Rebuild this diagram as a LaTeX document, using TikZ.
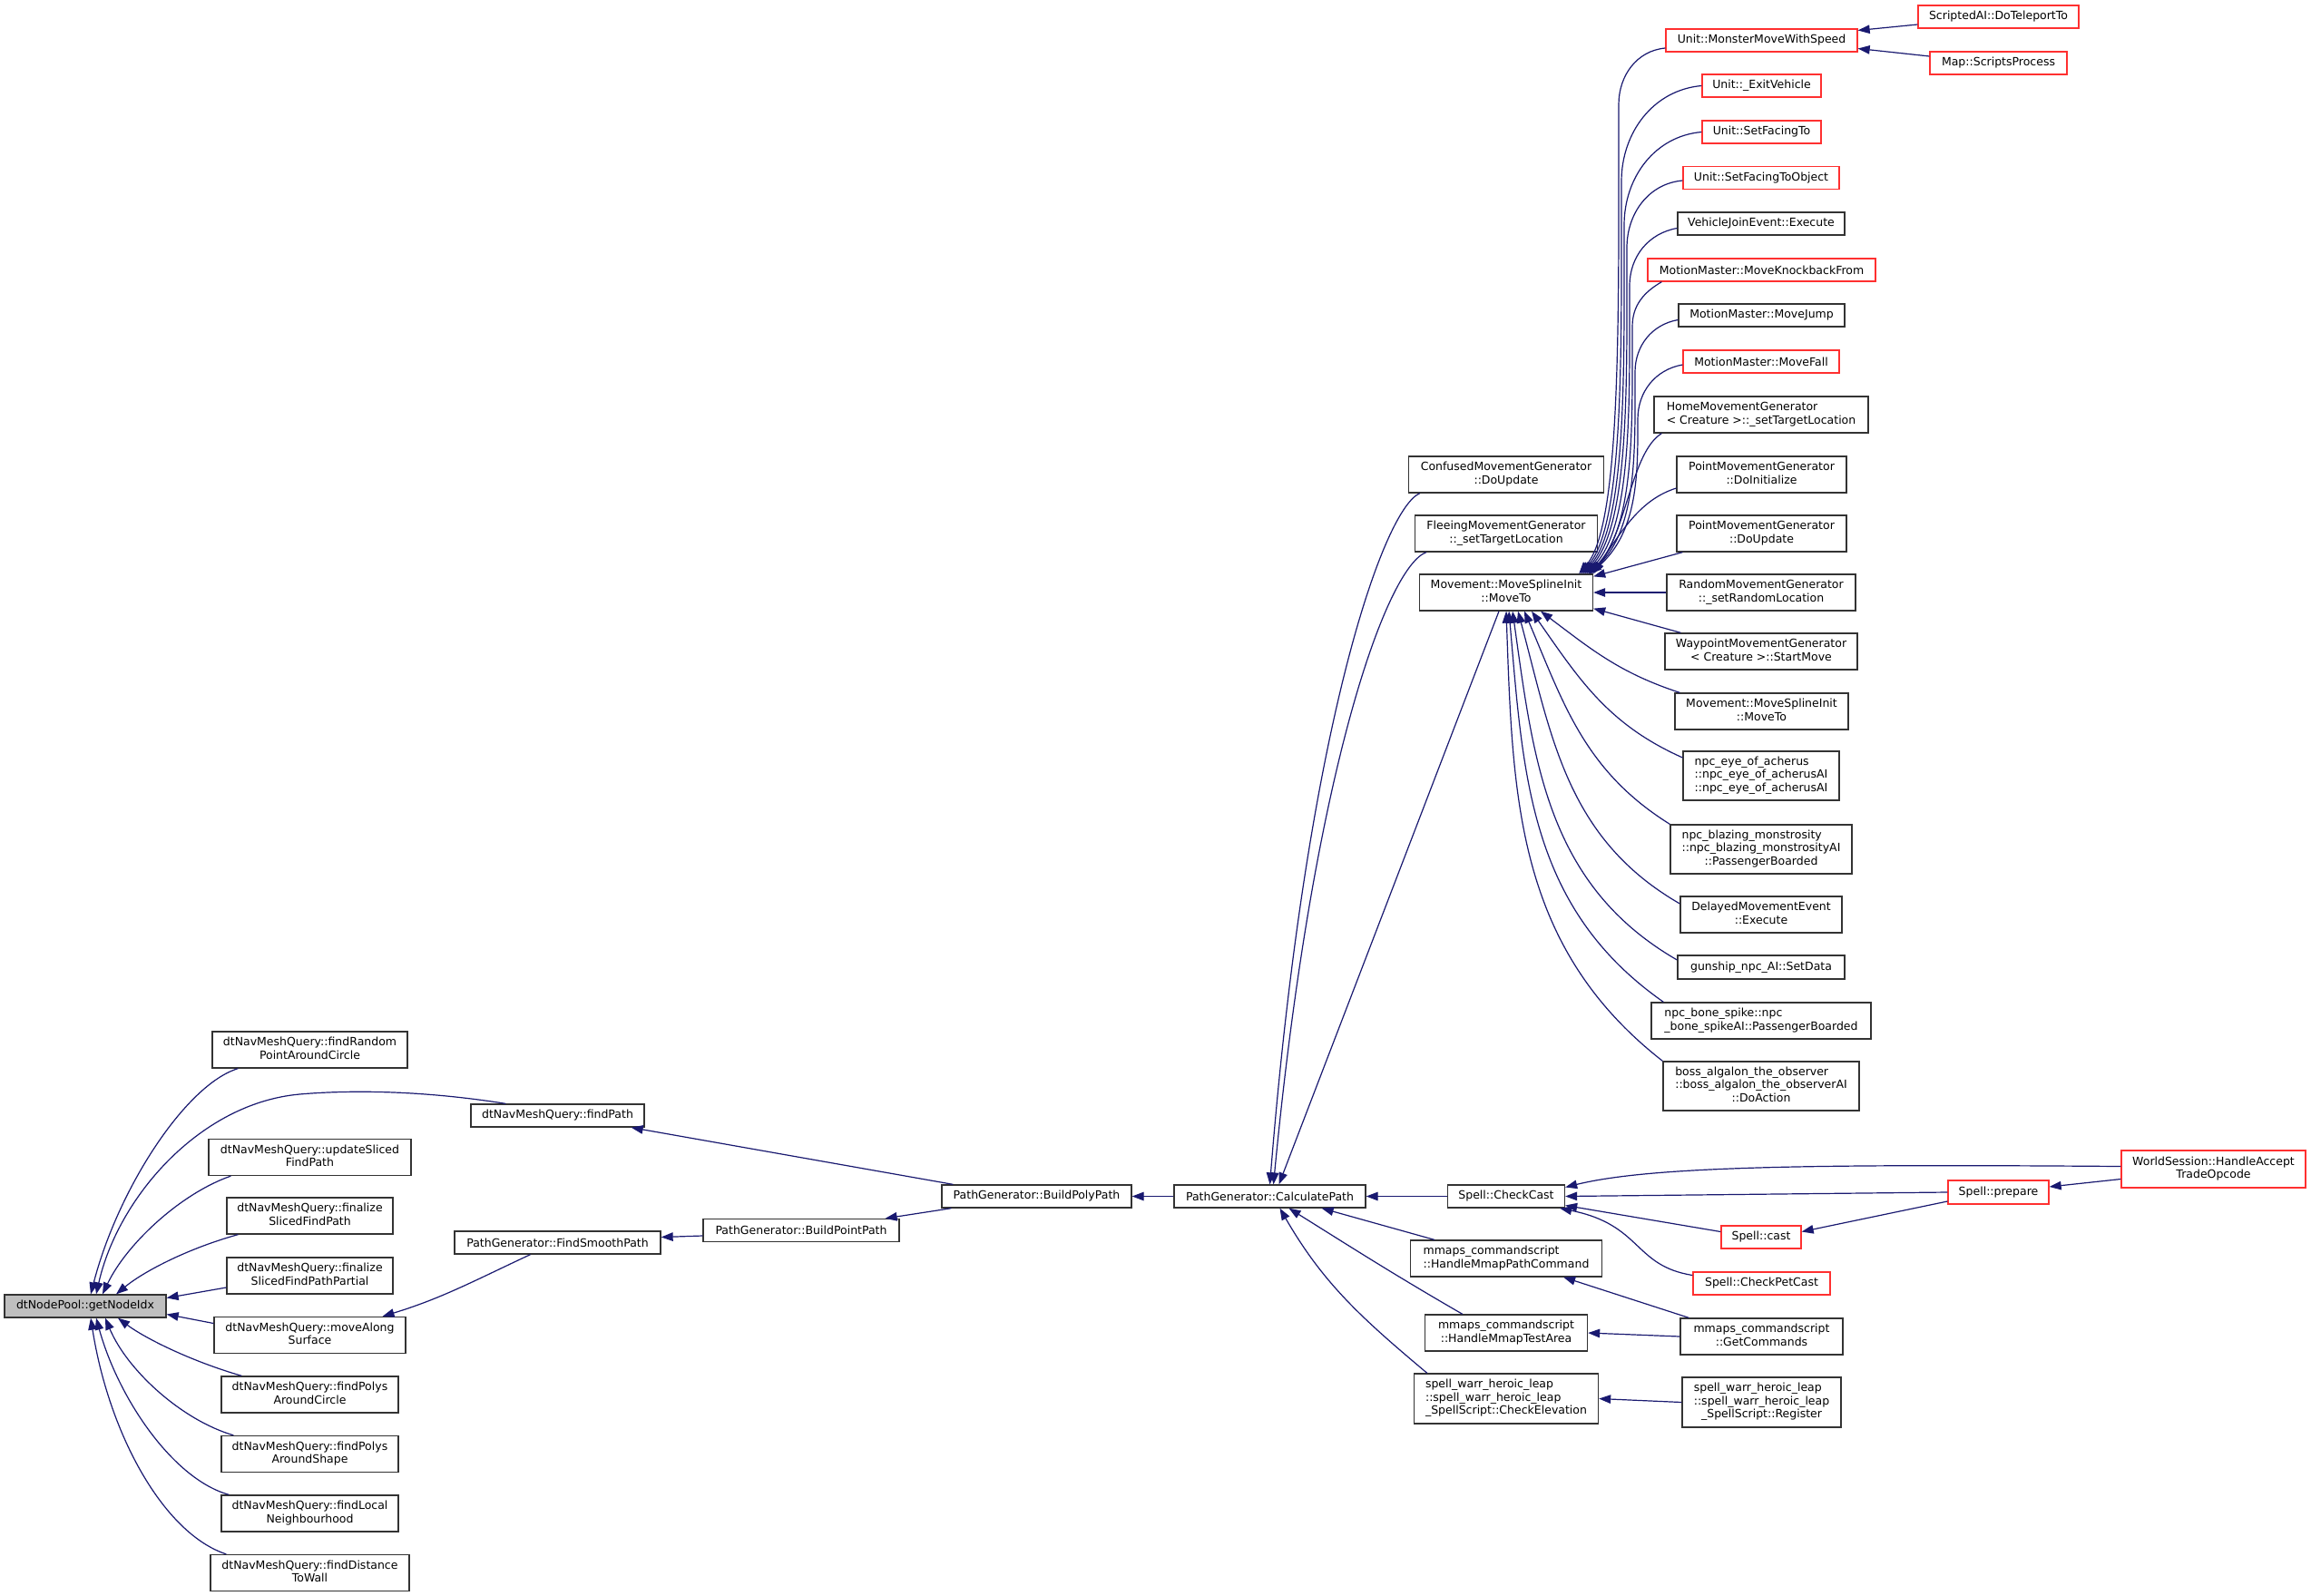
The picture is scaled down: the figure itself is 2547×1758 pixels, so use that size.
\documentclass[tikz,border=0pt]{standalone}
\usepackage{fontspec}
\setmainfont{DejaVu Sans}
\usetikzlibrary{arrows.meta}
\definecolor{edgec}{HTML}{191970}
\definecolor{redb}{HTML}{FF3030}
\definecolor{greyf}{HTML}{BFBFBF}
\newcommand{\mlines}[2]{\begin{tabular}{@{}l@{}}#1\\\multicolumn{1}{@{}c@{}}{#2}\end{tabular}}
\tikzset{
 box/.style={draw=black!80,line width=1.3pt,fill=white,inner sep=0pt,font=\fontsize{12.5pt}{14.5pt}\selectfont},
 rbox/.style={box,draw=redb},
 sz/.style 2 args={minimum width=#1pt,minimum height=#2pt},
 cedge/.style={draw=edgec,line width=1.2pt,-{Triangle[length=13pt,width=9.5pt]}}
}
\begin{document}
\begin{tikzpicture}[x=1pt,y=-1pt]
\fill[white] (0,0) rectangle (2547,1758);
\useasboundingbox (0,0) rectangle (2547,1758);

% ---------- nodes ----------
\node[box,fill=greyf,sz={178}{25}] (n0) at (94,1439.5) {dtNodePool::getNodeIdx};
\node[box,sz={215}{40}] (a1) at (341.5,1157) {\mlines{dtNavMeshQuery::findRandom}{PointAroundCircle}};
\node[box,sz={191}{25}] (b1) at (614.5,1229.5) {dtNavMeshQuery::findPath};
\node[box,sz={223}{40}] (a2) at (341.5,1275.5) {\mlines{dtNavMeshQuery::updateSliced}{FindPath}};
\node[box,sz={183}{40}] (a3) at (341.5,1340) {\mlines{dtNavMeshQuery::finalize}{SlicedFindPath}};
\node[box,sz={183}{40}] (a4) at (341.5,1406) {\mlines{dtNavMeshQuery::finalize}{SlicedFindPathPartial}};
\node[box,sz={211}{40}] (a5) at (341.5,1471.5) {\mlines{dtNavMeshQuery::moveAlong}{Surface}};
\node[box,sz={195}{40}] (a6) at (341.5,1537) {\mlines{dtNavMeshQuery::findPolys}{AroundCircle}};
\node[box,sz={195}{40}] (a7) at (341.5,1602.5) {\mlines{dtNavMeshQuery::findPolys}{AroundShape}};
\node[box,sz={195}{40}] (a8) at (341.5,1668) {\mlines{dtNavMeshQuery::findLocal}{Neighbourhood}};
\node[box,sz={219}{40}] (a9) at (341.5,1733.5) {\mlines{dtNavMeshQuery::findDistance}{ToWall}};
\node[box,sz={227}{25}] (b2) at (614.5,1369.5) {PathGenerator::FindSmoothPath};
\node[box,sz={216}{25}] (c1) at (883,1356) {PathGenerator::BuildPointPath};
\node[box,sz={209}{25}] (c2) at (1142.5,1318.5) {PathGenerator::BuildPolyPath};
\node[box,sz={211}{25}] (d1) at (1399.5,1318.5) {PathGenerator::CalculatePath};

\node[box,sz={215}{40}] (m1) at (1660,523) {\mlines{ConfusedMovementGenerator}{::DoUpdate}};
\node[box,sz={201}{40}] (m2) at (1660,588) {\mlines{FleeingMovementGenerator}{::\_setTargetLocation}};
\node[box,sz={191}{40}] (m3) at (1660,653) {\mlines{Movement::MoveSplineInit}{::MoveTo}};
\node[box,sz={129}{25}] (m4) at (1660,1318.5) {Spell::CheckCast};
\node[box,sz={211}{40}] (m5) at (1660,1387) {\mlines{mmaps\_commandscript}{::HandleMmapPathCommand}};
\node[box,sz={179}{40}] (m6) at (1660,1469) {\mlines{mmaps\_commandscript}{::HandleMmapTestArea}};
\node[box,sz={203}{55}] (m7) at (1660,1541.5) {\mlines{spell\_warr\_heroic\_leap\\::spell\_warr\_heroic\_leap}{\_SpellScript::CheckElevation}};

\node[rbox,sz={211}{25}] (r1) at (1941.5,44.5) {Unit::MonsterMoveWithSpeed};
\node[rbox,sz={131}{25}] (r2) at (1941.5,94.5) {Unit::\_ExitVehicle};
\node[rbox,sz={131}{25}] (r3) at (1941.5,145.5) {Unit::SetFacingTo};
\node[rbox,sz={172}{25}] (r4) at (1941,196) {Unit::SetFacingToObject};
\node[box,sz={184}{25}] (r5) at (1941,246.5) {VehicleJoinEvent::Execute};
\node[rbox,sz={251}{25}] (r6) at (1941.5,297.5) {MotionMaster::MoveKnockbackFrom};
\node[box,sz={183}{25}] (r7) at (1941.5,347.5) {MotionMaster::MoveJump};
\node[rbox,sz={172}{25}] (r8) at (1941,398.5) {MotionMaster::MoveFall};
\node[box,sz={236}{40}] (r9) at (1941,457) {\mlines{HomeMovementGenerator}{< Creature >::\_setTargetLocation}};
\node[box,sz={187}{40}] (r10) at (1941.5,523) {\mlines{PointMovementGenerator}{::DoInitialize}};
\node[box,sz={187}{40}] (r11) at (1941.5,588) {\mlines{PointMovementGenerator}{::DoUpdate}};
\node[box,sz={208}{40}] (r12) at (1941,653) {\mlines{RandomMovementGenerator}{::\_setRandomLocation}};
\node[box,sz={212}{40}] (r13) at (1941,718) {\mlines{WaypointMovementGenerator}{< Creature >::StartMove}};
\node[box,sz={191}{40}] (r14) at (1941.5,784) {\mlines{Movement::MoveSplineInit}{::MoveTo}};
\node[box,sz={172}{54}] (r15) at (1941,855) {\mlines{npc\_eye\_of\_acherus\\::npc\_eye\_of\_acherusAI}{::npc\_eye\_of\_acherusAI}};
\node[box,sz={200}{54}] (r16) at (1941,936) {\mlines{npc\_blazing\_monstrosity\\::npc\_blazing\_monstrosityAI}{::PassengerBoarded}};
\node[box,sz={178}{40}] (r17) at (1941,1008) {\mlines{DelayedMovementEvent}{::Execute}};
\node[box,sz={184}{26}] (r18) at (1941,1066) {gunship\_npc\_AI::SetData};
\node[box,sz={242}{40}] (r19) at (1941,1125) {\mlines{npc\_bone\_spike::npc}{\_bone\_spikeAI::PassengerBoarded}};
\node[box,sz={216}{54}] (r20) at (1941,1197) {\mlines{boss\_algalon\_the\_observer\\::boss\_algalon\_the\_observerAI}{::DoAction}};

\node[rbox,sz={88}{25}] (s1) at (1941,1363.5) {Spell::cast};
\node[rbox,sz={151}{25}] (s2) at (1941.5,1414.5) {Spell::CheckPetCast};
\node[box,sz={179}{40}] (s3) at (1941.5,1473) {\mlines{mmaps\_commandscript}{::GetCommands}};
\node[box,sz={175}{55}] (s4) at (1941.5,1545.5) {\mlines{spell\_warr\_heroic\_leap\\::spell\_warr\_heroic\_leap}{\_SpellScript::Register}};

\node[rbox,sz={177}{25}] (f1) at (2202.5,18.5) {ScriptedAI::DoTeleportTo};
\node[rbox,sz={151}{25}] (f2) at (2202.5,69.5) {Map::ScriptsProcess};
\node[rbox,sz={111}{26}] (f3) at (2202.5,1314) {Spell::prepare};
\node[rbox,sz={203}{41}] (f4) at (2439.5,1288.5) {\mlines{WorldSession::HandleAccept}{TradeOpcode}};

% ---------- edges into getNodeIdx ----------
\draw[cedge] ([xshift=29pt]a1.south west) .. controls (205,1195) and (130,1310) .. ([xshift=6pt]n0.north);
\draw[cedge] ([xshift=39pt]b1.north west) .. controls (480,1204) and (400,1200) .. (330,1206) .. controls (220,1216) and (130,1320) .. ([xshift=12pt]n0.north);
\draw[cedge] ([xshift=25pt]a2.south west) .. controls (200,1315) and (140,1370) .. ([xshift=19pt]n0.north);
\draw[cedge] ([xshift=13pt]a3.south west) .. controls (210,1375) and (160,1400) .. ([xshift=34pt]n0.north);
\draw[cedge] ([yshift=-13pt]a4.west) -- ([yshift=9pt]n0.east);
\draw[cedge] ([yshift=13pt]a5.west) -- ([yshift=-9pt]n0.east);
\draw[cedge] ([xshift=23pt]a6.north west) .. controls (210,1500) and (160,1475) .. ([xshift=36pt]n0.south);
\draw[cedge] ([xshift=14pt]a7.north west) .. controls (200,1565) and (140,1510) .. ([xshift=22pt]n0.south);
\draw[cedge] ([xshift=9pt]a8.north west) .. controls (190,1630) and (130,1540) .. ([xshift=12pt]n0.south);
\draw[cedge] ([xshift=18pt]a9.north west) .. controls (180,1690) and (120,1580) .. ([xshift=6pt]n0.south);

% ---------- path generator chain ----------
\draw[cedge] ([xshift=-30pt]b2.south) to[out=-155,in=17] ([xshift=80pt]a5.north);
\draw[cedge] ([xshift=13pt]c2.north west) -- ([xshift=-15pt]b1.south east);
\draw[cedge] ([yshift=-6pt]c1.west) -- ([yshift=6pt]b2.east);
\draw[cedge] ([xshift=11pt]c2.south west) -- ([xshift=-16pt]c1.north east);
\draw[cedge] (d1.west) -- (c2.east);

% ---------- into CalculatePath ----------
\draw[cedge] ([xshift=13pt]m1.south west) .. controls (1525,560) and (1440,800) .. (d1.north);
\draw[cedge] ([xshift=13pt]m2.south west) .. controls (1528,625) and (1447,850) .. ([xshift=4pt]d1.north);
\draw[cedge] ([xshift=-8pt]m3.south) -- ([xshift=10pt]d1.north);
\draw[cedge] (m4.west) -- (d1.east);
\draw[cedge] ([xshift=27pt]m5.north west) -- ([xshift=-49pt]d1.south east);
\draw[cedge] ([xshift=42pt]m6.north west) to[out=150,in=-32] ([xshift=21pt]d1.south);
\draw[cedge] ([xshift=15pt]m7.north west) to[out=140,in=-60] ([xshift=11pt]d1.south);

% ---------- into MoveSplineInit::MoveTo ----------
\draw[cedge] ([yshift=-8.5pt]r1.west) to[out=185,in=90] (1784,115) .. controls (1784,350) and (1787,578) .. ([xshift=-16pt]m3.north east);
\draw[cedge] (r2.west) to[out=185,in=90] (1787,200) .. controls (1787,390) and (1790,578) .. ([xshift=-14pt]m3.north east);
\draw[cedge] (r3.west) to[out=185,in=90] (1790,248) .. controls (1790,410) and (1793,578) .. ([xshift=-12pt]m3.north east);
\draw[cedge] ([yshift=-3pt]r4.west) to[out=185,in=90] (1793,273) .. controls (1793,425) and (1796,578) .. ([xshift=-10pt]m3.north east);
\draw[cedge] ([yshift=-5pt]r5.west) to[out=190,in=90] (1796,315) .. controls (1796,445) and (1799,580) .. ([xshift=-8pt]m3.north east);
\draw[cedge] ([xshift=16pt]r6.south west) to[out=210,in=90] (1799,360) .. controls (1799,470) and (1802,582) .. ([xshift=-6pt]m3.north east);
\draw[cedge] ([yshift=-5pt]r7.west) to[out=190,in=90] (1802,410) .. controls (1802,495) and (1805,584) .. ([xshift=-5pt]m3.north east);
\draw[cedge] ([yshift=-3.5pt]r8.west) to[out=190,in=90] (1805,462) .. controls (1805,520) and (1806,586) .. ([xshift=-4pt]m3.north east);
\draw[cedge] ([xshift=9pt]r9.south west) .. controls (1798,498) and (1793,585) .. ([xshift=-2pt]m3.north east);
\draw[cedge] ([yshift=-15pt]r10.west) .. controls (1810,550) and (1790,580) .. (m3.north east);
\draw[cedge] ([xshift=7pt]r11.south west) -- ([yshift=-3pt]m3.north east);
\draw[cedge] (r12.west) -- (m3.east);
\draw[cedge] ([xshift=18pt]r13.north west) -- ([yshift=3pt]m3.south east);
\draw[cedge] ([xshift=6pt]r14.north west) to[out=162,in=-37] ([xshift=38pt]m3.south);
\draw[cedge] ([yshift=20pt]r15.west) to[out=156,in=-55] ([xshift=28pt]m3.south);
\draw[cedge] (r16.north west) to[out=148,in=-67] ([xshift=20pt]m3.south);
\draw[cedge] ([yshift=12pt]r17.west) to[out=150,in=-75] ([xshift=13pt]m3.south);
\draw[cedge] ([yshift=8pt]r18.west) to[out=150,in=-82] ([xshift=7pt]m3.south);
\draw[cedge] ([xshift=14pt]r19.north west) to[out=145,in=-85] ([xshift=3pt]m3.south);
\draw[cedge] (r20.north west) to[out=142,in=-88] (m3.south);

% ---------- far right ----------
\draw[cedge] ([yshift=-8.5pt]f1.west) -- ([yshift=11pt]r1.east);
\draw[cedge] ([yshift=7.5pt]f2.west) -- ([yshift=-9pt]r1.east);

% ---------- spell cluster ----------
\draw[cedge] ([yshift=3pt]f4.west) .. controls (2000,1283) and (1820,1285) .. ([yshift=10pt]m4.east);
\draw[cedge] (f3.west) -- (m4.east);
\draw[cedge] ([yshift=-11pt]f4.west) -- ([yshift=6pt]f3.east);
\draw[cedge] ([yshift=-10pt]f3.west) -- ([yshift=6pt]s1.east);
\draw[cedge] ([yshift=6pt]s1.west) -- ([yshift=-10pt]m4.east);
\draw[cedge] ([yshift=9pt]s2.west) .. controls (1800,1395) and (1810,1350) .. ([xshift=-6pt]m4.south east);
\draw[cedge] ([xshift=10pt]s3.north west) -- ([xshift=-43pt]m5.south east);
\draw[cedge] (s3.west) -- (m6.east);
\draw[cedge] (s4.west) -- (m7.east);
\end{tikzpicture}
\end{document}
